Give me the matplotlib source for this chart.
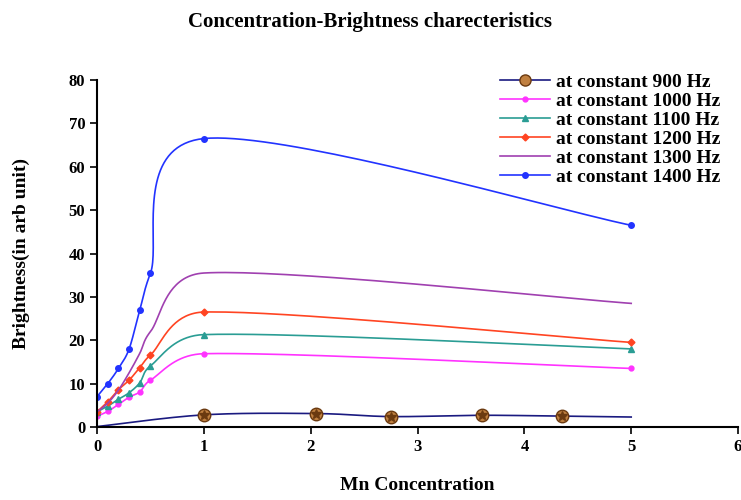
import numpy as np
import matplotlib
matplotlib.use("Agg")
import matplotlib.pyplot as plt
from matplotlib.lines import Line2D

# Data
x_low = [0, 0.1, 0.2, 0.3, 0.4, 0.5, 1, 5]
b_1000 = [2.5, 3.6, 5.2, 6.9, 8.1, 10.8, 16.9, 13.5]
b_1100 = [3.5, 4.8, 6.4, 7.9, 10.2, 14.1, 21.3, 18.0]
b_1200 = [3.5, 5.8, 8.6, 10.8, 13.7, 16.6, 26.5, 19.5]
b_1300 = [3.5, 5.5, 8.5, 12.5, 17.0, 22.0, 35.5, 28.5]
b_1400 = [7.0, 10.0, 13.5, 18.0, 27.0, 35.5, 66.5, 46.5]

x_900 = [0, 1, 2.05, 2.75, 3.6, 4.35, 5]
b_900 = [0.1, 2.8, 3.1, 2.4, 2.7, 2.5, 2.3]

x_ticks = [0, 1, 2, 3, 4, 5, 6]
y_ticks = [0, 10, 20, 30, 40, 50, 60, 70, 80]

# pixel scale of one data unit, so the smoothing behaves like the spreadsheet one
SX, SY = 107.0, 4.34


def smooth(xs, ys, n=40):
    # Catmull-Rom style bezier, control arms capped at half the segment
    p = np.column_stack([np.array(xs) * SX, np.array(ys) * SY])
    k = len(p)
    out = [p[0]]
    t = np.linspace(0, 1, n)[1:, None]
    for i in range(k - 1):
        half = np.linalg.norm(p[i + 1] - p[i]) / 2
        a = (p[i + 1] - p[max(i - 1, 0)]) / 6
        b = (p[min(i + 2, k - 1)] - p[i]) / 6
        if np.linalg.norm(a) > half:
            a = a * half / np.linalg.norm(a)
        if np.linalg.norm(b) > half:
            b = b * half / np.linalg.norm(b)
        c1 = p[i] + a
        c2 = p[i + 1] - b
        seg = ((1 - t) ** 3) * p[i] + 3 * ((1 - t) ** 2) * t * c1 \
            + 3 * (1 - t) * t ** 2 * c2 + t ** 3 * p[i + 1]
        out.extend(seg)
    out = np.array(out)
    return out[:, 0] / SX, out[:, 1] / SY


plt.rcParams["font.family"] = "Liberation Serif"
plt.rcParams["font.weight"] = "bold"

fig = plt.figure(figsize=(7.41, 5.0), dpi=100)
ax = fig.add_axes([0.131, 0.146, 0.865, 0.694])

series = [
    ("at constant 1000 Hz", b_1000, "#ff33ff", "o", 3.5),
    ("at constant 1100 Hz", b_1100, "#2a9d94", "^", 4.5),
    ("at constant 1200 Hz", b_1200, "#ff4422", "D", 3.5),
    ("at constant 1300 Hz", b_1300, "#a040b0", None, 0),
    ("at constant 1400 Hz", b_1400, "#2233ff", "o", 4),
]

handles = []
# 900 Hz
sx, sy = smooth(x_900, b_900)
ax.plot(sx, sy, color="#1a1a80", lw=1.2)
ax.plot(x_900[1:-1], b_900[1:-1], ls="none", marker="o", ms=9,
        mfc="#c08040", mec="#6b3a10", mew=1)
ax.plot(x_900[1:-1], b_900[1:-1], ls="none", marker="*", ms=7,
        color="#6b3a10")
handles.append(Line2D([], [], color="#1a1a80", lw=1.2, marker="o", ms=8,
                      mfc="#c08040", mec="#6b3a10"))

for label, vals, col, mk, ms in series:
    sx, sy = smooth(x_low, vals)
    ax.plot(sx, sy, color=col, lw=1.2)
    if mk:
        ax.plot(x_low, vals, ls="none", marker=mk, ms=ms, color=col)
    handles.append(Line2D([], [], color=col, lw=1.2, marker=mk, ms=ms))

labels = ["at constant 900 Hz"] + [s[0] for s in series]
ax.legend(handles, labels, loc="upper right", bbox_to_anchor=(1.0, 1.07),
          frameon=False, prop={"family": "Liberation Serif", "weight": "bold",
                               "size": 14},
          handlelength=2.6, labelspacing=0.07, handletextpad=0.3)

ax.set_xlim(0, 6)
ax.set_ylim(0, 80)
ax.set_xticks(x_ticks)
ax.set_yticks(y_ticks)
ax.tick_params(labelsize=12, direction="out", length=5, width=1.2)
for s in ["top", "right"]:
    ax.spines[s].set_visible(False)
for s in ["left", "bottom"]:
    ax.spines[s].set_linewidth(1.5)

ax.set_xlabel("Mn Concentration", fontsize=14, fontweight="bold", labelpad=16)
ax.set_ylabel("Brightness(in arb unit)", fontsize=14, fontweight="bold",
              labelpad=28)
fig.suptitle("Concentration-Brightness charecteristics", x=0.5, y=0.975,
             fontsize=15, fontweight="bold")

fig.savefig("out.png", dpi=100)
